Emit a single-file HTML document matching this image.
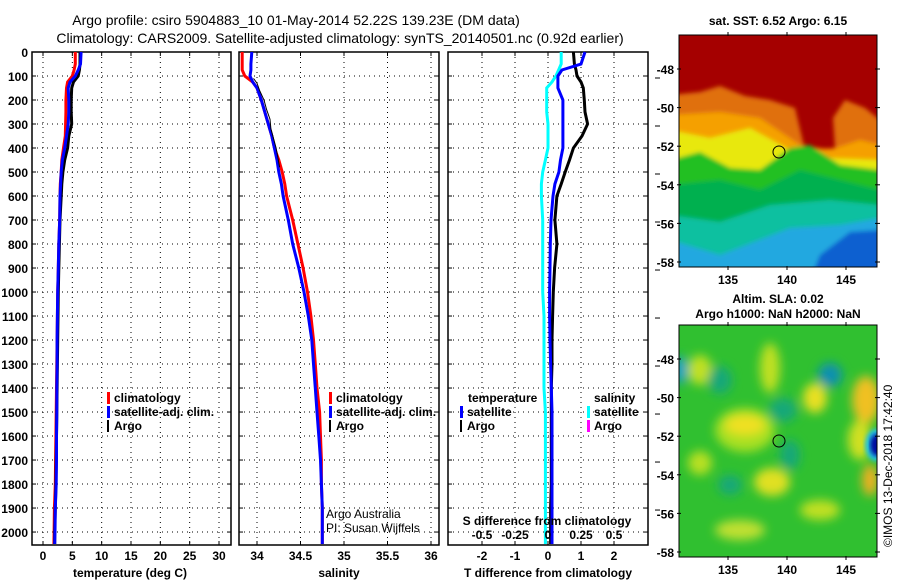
<!DOCTYPE html>
<html><head><meta charset="utf-8"><style>
body{margin:0;background:#fff}
svg{display:block;font-family:"Liberation Sans",sans-serif}
.tk{font-size:12px;font-weight:bold}
.gr{stroke:#000;stroke-width:1;stroke-dasharray:1 4}
</style></head><body>
<svg id="chart" width="900" height="580" viewBox="0 0 900 580">
<text x="296" y="25" font-size="14" text-anchor="middle">Argo profile: csiro 5904883_10 01-May-2014 52.22S 139.23E (DM data)</text>
<text x="340" y="43" font-size="14" text-anchor="middle">Climatology: CARS2009. Satellite-adjusted climatology: synTS_20140501.nc (0.92d earlier)</text>
<g id="panels"></g>
<g id="maps"></g>
</svg>
<script>
const depths=[0,50,75,100,125,150,200,250,300,350,400,450,500,550,600,700,800,900,1000,1100,1200,1300,1400,1500,1600,1700,1800,1900,2000,2050];
const tempClim=[5.5,5.5,5.3,5.0,4.2,4.0,3.9,3.9,3.85,3.8,3.5,3.2,3.1,2.95,2.9,2.85,2.7,2.6,2.5,2.45,2.4,2.35,2.3,2.25,2.2,2.15,2.1,1.95,1.9,1.85];
const tempSat=[6.5,6.4,6.0,5.5,4.6,4.3,4.4,4.4,4.3,4.0,3.7,3.3,3.1,3.0,2.9,2.85,2.7,2.6,2.5,2.45,2.4,2.4,2.35,2.35,2.3,2.3,2.25,2.1,2.05,2.0];
const tempArgo=[6.3,6.3,6.2,6.0,5.2,4.9,4.8,4.8,4.9,4.4,4.2,3.7,3.4,3.2,3.1,2.9,2.8,2.7,2.6,2.55,2.5,2.45,2.4,2.35,2.3,2.25,2.2,2.1,2.0,2.0];
const salClim=[33.83,33.83,33.83,33.86,33.95,34.0,34.05,34.09,34.13,34.17,34.2,34.25,34.29,34.32,34.34,34.41,34.47,34.53,34.58,34.62,34.65,34.67,34.69,34.72,34.73,34.74,34.74,34.75,34.75,34.75];
const salSat=[33.94,33.93,33.93,33.92,33.95,34.0,34.05,34.09,34.13,34.17,34.2,34.23,34.25,34.28,34.3,34.36,34.41,34.48,34.54,34.59,34.63,34.65,34.67,34.69,34.71,34.73,34.74,34.75,34.75,34.75];
const salArgoDepths=[110,130,160,200,240,280,320,360,400,440,480];
const salArgo=[33.96,34.0,34.03,34.08,34.11,34.15,34.16,34.19,34.22,34.24,34.26];
const tDiffArgo=[0.77,0.8,0.85,0.88,1.0,1.07,1.1,1.12,1.2,1.03,0.77,0.65,0.52,0.4,0.27,0.21,0.27,0.2,0.16,0.14,0.12,0.12,0.1,0.1,0.1,0.1,0.1,0.08,0.08,0.08];
const tDiffSat=[1.12,1.0,0.42,0.3,0.3,0.3,0.45,0.45,0.45,0.45,0.45,0.38,0.33,0.21,0.15,0.09,0.07,0.06,0.05,0.05,0.06,0.08,0.1,0.12,0.12,0.12,0.12,0.12,0.12,0.12];
const sDiffSat=[0.1,0.1,0.08,0.06,0.03,-0.01,-0.01,-0.01,0,0,0,-0.02,-0.04,-0.05,-0.05,-0.04,-0.04,-0.04,-0.04,-0.03,-0.03,-0.03,-0.03,-0.02,-0.02,-0.02,-0.02,-0.02,-0.02,-0.02];
const depthTicks=[0,100,200,300,400,500,600,700,800,900,1000,1100,1200,1300,1400,1500,1600,1700,1800,1900,2000];
const tempTicks=[0,5,10,15,20,25,30];
const salTicks=[34,34.5,35,35.5,36];
const salTickLabels=["34","34.5","35","35.5","36"];
const tdTicks=[-2,-1,0,1,2];
const sdTicks=[-0.5,-0.25,0,0.25,0.5];
const sdTickLabels=["-0.5","-0.25","0","0.25","0.5"];
const latTicks=[-48,-50,-52,-54,-56,-58];
const lonTicks=[135,140,145];

const NS="http://www.w3.org/2000/svg";
function mk(p,tag,attrs,txt){const e=document.createElementNS(NS,tag);for(const k in attrs)e.setAttribute(k,attrs[k]);if(txt!==undefined)e.textContent=txt;p.appendChild(e);return e;}
const TOP=52,BOT=545;
const yD=d=>TOP+(d-0)*(BOT-TOP)/2054;
function lin(d0,d1,r0,r1){return v=>r0+(v-d0)*(r1-r0)/(d1-d0);}
const xT=lin(0,30,43,219), xS=lin(34,36,257,431), xTD=lin(-2,2,482,614), xSD=lin(-0.5,0.5,482,614);
const P=document.getElementById('panels');

function frame(x0,x1,name,xgrid){
  const g=mk(P,'g',{});
  
  
  depthTicks.forEach(d=>{const y=yD(d);if(d>0)mk(g,'line',{x1:x0,x2:x1,y1:y,y2:y,class:'gr'});mk(g,'line',{x1:x0,x2:x0+4,y1:y,y2:y,stroke:'#000'});mk(g,'line',{x1:x1-4,x2:x1,y1:y,y2:y,stroke:'#000'});});
  xgrid.forEach(x=>{mk(g,'line',{x1:x,x2:x,y1:TOP,y2:BOT,class:'gr'});mk(g,'line',{x1:x,x2:x,y1:TOP,y2:TOP+4,stroke:'#000'});mk(g,'line',{x1:x,x2:x,y1:BOT-4,y2:BOT,stroke:'#000'});});
  mk(g,'rect',{x:x0,y:TOP,width:x1-x0,height:BOT-TOP,fill:'none',stroke:'#000','stroke-width':1.5});
  return g;
}
function line(g,xs,ds,sx,col,w,name){
  const pts=xs.map((v,i)=>sx(v).toFixed(1)+','+yD(ds[i]).toFixed(1)).join(' ');
  const e=mk(g,'polyline',{points:pts,fill:'none',stroke:col,'stroke-width':w});
  
  
}
function legend(g,x,y,items){
  items.forEach((it,i)=>{
    mk(g,'rect',{x:x,y:y+i*14-10,width:it[2]||3,height:12,fill:it[0]});
    const t=mk(g,'text',{x:x+7,y:y+i*14,class:'tk'},it[1]);
    
    
  });
}
// panel 1
const g1=frame(32,231,'temperature-panel',tempTicks.map(xT));
depthTicks.forEach(d=>mk(g1,'text',{x:28,y:yD(d)+5,class:'tk','text-anchor':'end'},String(d)));
tempTicks.forEach(v=>mk(g1,'text',{x:xT(v),y:560,class:'tk','text-anchor':'middle'},String(v)));
mk(g1,'text',{x:130,y:577,class:'tk','text-anchor':'middle'},'temperature (deg C)');
line(g1,tempClim,depths,xT,'#f00',3,'temp-climatology-line');
line(g1,tempArgo,depths,xT,'#000',3,'temp-argo-line');
line(g1,tempSat,depths,xT,'#00f',3,'temp-satellite-line');
legend(g1,107,402,[['#f00','climatology'],['#00f','satellite-adj. clim.'],['#000','Argo',2]]);
// panel 2
const g2=frame(239,439,'salinity-panel',salTicks.map(xS));
salTicks.forEach((v,i)=>mk(g2,'text',{x:xS(v),y:560,class:'tk','text-anchor':'middle'},salTickLabels[i]));
mk(g2,'text',{x:339,y:577,class:'tk','text-anchor':'middle'},'salinity');
line(g2,salClim,depths,xS,'#f00',3,'sal-climatology-line');
line(g2,salSat,depths,xS,'#00f',3,'sal-satellite-line');
line(g2,salArgo,salArgoDepths,xS,'#000',1,'sal-argo-line');
legend(g2,329,402,[['#f00','climatology'],['#00f','satellite-adj. clim.'],['#000','Argo',2]]);
mk(g2,'text',{x:326,y:518,'font-size':12},'Argo Australia');
mk(g2,'text',{x:326,y:532,'font-size':12},'PI: Susan Wijffels');
// panel 3
const g3=frame(448,648,'difference-panel',tdTicks.map(xTD));
tdTicks.forEach(v=>mk(g3,'text',{x:xTD(v),y:560,class:'tk','text-anchor':'middle'},String(v)));
mk(g3,'text',{x:548,y:577,class:'tk','text-anchor':'middle'},'T difference from climatology');
depthTicks.forEach(d=>{if(d%200==100)mk(g3,'line',{x1:655,x2:660,y1:yD(d)+2,y2:yD(d)+2,stroke:'#000'})});
line(g3,sDiffSat,depths,xSD,'#0ff',3,'sdiff-satellite-line');
line(g3,tDiffArgo,depths,xTD,'#000',3,'tdiff-argo-line');
line(g3,tDiffSat,depths,xTD,'#00f',3,'tdiff-satellite-line');
mk(g3,'text',{x:468,y:402,class:'tk'},'temperature');
legend(g3,460,416,[['#00f','satellite'],['#000','Argo',2]]);
mk(g3,'text',{x:594,y:402,class:'tk'},'salinity');
legend(g3,587,416,[['#0ff','satellite'],['#f0f','Argo']]);
mk(g3,'text',{x:547,y:525,class:'tk','text-anchor':'middle'},'S difference from climatology');
sdTicks.forEach((v,i)=>mk(g3,'text',{x:xSD(v),y:539,class:'tk','text-anchor':'middle'},sdTickLabels[i]));

// maps
const M=document.getElementById('maps');
mk(M,'defs',{}).innerHTML='<filter id="bl" x="-20%" y="-20%" width="140%" height="140%"><feGaussianBlur stdDeviation="5"/></filter><filter id="bl2"><feGaussianBlur stdDeviation="2"/></filter><clipPath id="c1"><rect x="679" y="35" width="198" height="232"/></clipPath><clipPath id="c2"><rect x="679" y="325" width="198" height="232"/></clipPath>';
const mx=lin(135,145,728,846);
function mapAxes(g,y0,y1,name){
  const ly=lin(-48,-58,y0+34,y0+227);
  mk(g,'rect',{x:679,y:y0,width:198,height:232,fill:'none',stroke:'#000'});
  latTicks.forEach(v=>{const y=ly(v);mk(g,'text',{x:674,y:y+5,class:'tk','text-anchor':'end'},String(v));mk(g,'line',{x1:677,x2:681,y1:y,y2:y,stroke:'#000'});mk(g,'line',{x1:875,x2:880,y1:y,y2:y,stroke:'#000'});});
  lonTicks.forEach(v=>{const x=mx(v);mk(g,'text',{x:x,y:y1+17,class:'tk','text-anchor':'middle'},String(v));mk(g,'line',{x1:x,x2:x,y1:y0-3,y2:y0+1,stroke:'#000'});mk(g,'line',{x1:x,x2:x,y1:y1-1,y2:y1+3,stroke:'#000'});});
}
const m1=mk(M,'g',{});


const i1=mk(m1,'g',{'clip-path':'url(#c1)'});
mk(i1,'rect',{x:679,y:35,width:198,height:232,fill:'#a50000'});
const g1m=mk(i1,'g',{filter:'url(#bl2)'});
mk(g1m,'path',{fill:'#e07010',d:'M670,95 L700,92 L720,86 L745,96 L770,100 L795,108 L805,150 L835,148 L833,118 L845,100 L865,108 L880,120 L880,280 L670,280Z'});
mk(g1m,'path',{fill:'#f5a000',d:'M670,115 L720,112 L760,118 L800,145 L830,150 L860,140 L880,145 L880,280 L670,280Z'});
mk(g1m,'path',{fill:'#e8e810',d:'M670,130 L710,138 L750,128 L790,150 L830,158 L880,160 L880,280 L670,280Z'});
mk(g1m,'path',{fill:'#20c020',d:'M670,160 L700,152 L730,168 L760,170 L790,148 L810,145 L840,165 L880,170 L880,280 L670,280Z'});
mk(g1m,'path',{fill:'#00b050',d:'M670,185 L720,180 L760,190 L800,170 L840,180 L880,190 L880,280 L670,280Z'});
mk(g1m,'path',{fill:'#10c0a0',d:'M670,215 L720,222 L770,205 L830,200 L880,205 L880,280 L670,280Z'});
mk(g1m,'path',{fill:'#20a8e0',d:'M670,240 L720,255 L790,228 L840,225 L880,218 L880,280 L670,280Z'});
mk(g1m,'path',{fill:'#1060d0',d:'M820,255 L850,232 L880,230 L880,280 L810,280Z'});
mk(m1,'circle',{cx:779,cy:152,r:6,fill:'none',stroke:'#000'});
mapAxes(m1,35,267);
mk(m1,'text',{x:778,y:25,class:'tk','text-anchor':'middle'},'sat. SST: 6.52 Argo: 6.15');

const m2=mk(M,'g',{});


const i2=mk(m2,'g',{'clip-path':'url(#c2)'});
mk(i2,'rect',{x:679,y:325,width:198,height:232,fill:'#30c030'});
const g2m=mk(i2,'g',{filter:'url(#bl)'});
[['#a8e020',745,430,30,22],['#f0e020',745,425,20,10],['#c0e020',700,370,12,15],['#c0e020',770,368,10,25],['#18a878',783,410,14,12],['#18a878',720,380,12,14],['#10a0c0',680,370,8,14],['#1090b0',830,375,12,12],['#e8e020',815,398,12,15],['#f0c020',866,400,14,24],['#d0e020',860,440,12,20],['#f0b020',870,480,8,16],['#e0e020',772,482,18,14],['#b8e020',700,463,12,12],['#c0e030',740,530,25,10],['#c0e020',820,510,20,10],['#18a878',790,455,10,15],['#18a878',730,485,12,10]].forEach(b=>mk(g2m,'ellipse',{fill:b[0],cx:b[1],cy:b[2],rx:b[3],ry:b[4]}));
mk(i2,'ellipse',{cx:876,cy:445,rx:11,ry:16,fill:'#20c0e0',filter:'url(#bl2)'});
mk(i2,'ellipse',{cx:877,cy:445,rx:7,ry:11,fill:'#0010a0',filter:'url(#bl2)'});
mk(m2,'circle',{cx:779,cy:441,r:6,fill:'none',stroke:'#000'});
mapAxes(m2,325,557);
mk(m2,'text',{x:778,y:303,class:'tk','text-anchor':'middle'},'Altim. SLA: 0.02');
mk(m2,'text',{x:778,y:318,class:'tk','text-anchor':'middle'},'Argo h1000: NaN h2000: NaN');
mk(M,'text',{x:0,y:0,'font-size':12,transform:'translate(892,547) rotate(-90)'},'©IMOS 13-Dec-2018 17:42:40');
</script>
</body></html>
